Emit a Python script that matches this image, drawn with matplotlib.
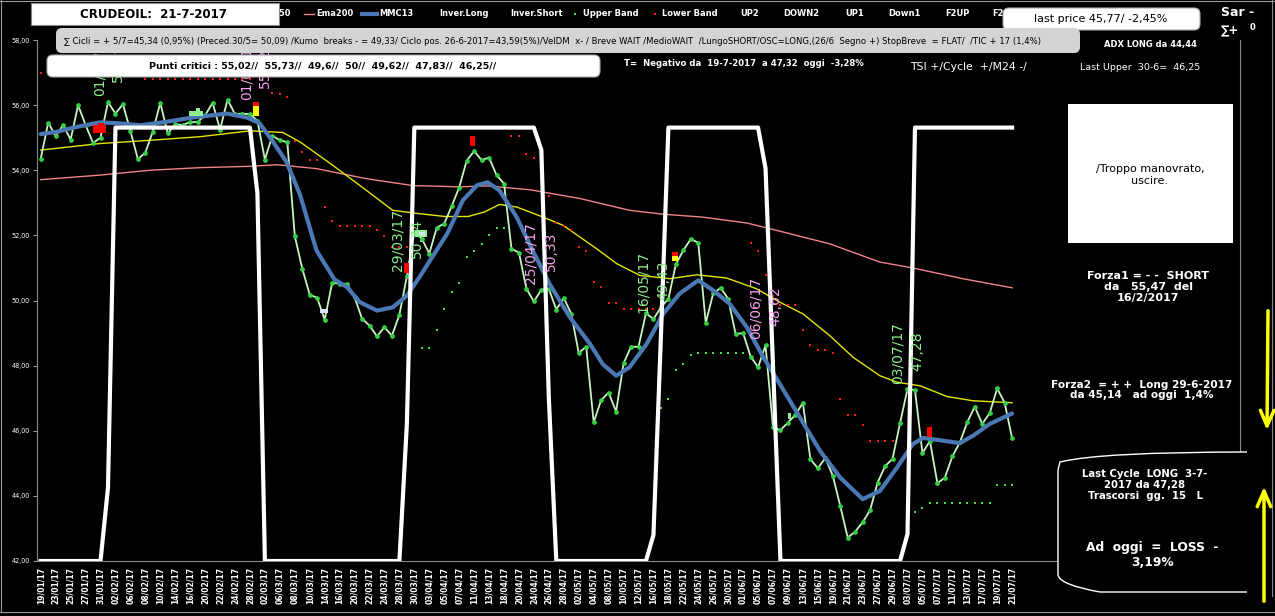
import numpy as np
import matplotlib
matplotlib.use('Agg')
import matplotlib.pyplot as plt
from matplotlib.patches import FancyBboxPatch, Rectangle, PathPatch
from matplotlib.path import Path

# ---- data ----
date_labels = ['19/01/17', '23/01/17', '25/01/17', '27/01/17', '31/01/17',
               '02/02/17', '06/02/17', '08/02/17', '10/02/17', '14/02/17', '16/02/17',
               '20/02/17', '22/02/17', '24/02/17', '28/02/17',
               '02/03/17', '06/03/17', '08/03/17', '10/03/17', '14/03/17', '16/03/17',
               '20/03/17', '22/03/17', '24/03/17', '28/03/17', '30/03/17',
               '03/04/17', '05/04/17', '07/04/17', '11/04/17', '13/04/17', '18/04/17',
               '20/04/17', '24/04/17', '26/04/17', '28/04/17',
               '02/05/17', '04/05/17', '08/05/17', '10/05/17', '12/05/17', '16/05/17',
               '18/05/17', '22/05/17', '24/05/17', '26/05/17', '30/05/17',
               '01/06/17', '05/06/17', '07/06/17', '09/06/17', '13/06/17', '15/06/17',
               '19/06/17', '21/06/17', '23/06/17', '27/06/17', '29/06/17',
               '03/07/17', '05/07/17', '07/07/17', '11/07/17', '13/07/17', '17/07/17',
               '19/07/17', '21/07/17']

price = [54.36, 55.46, 55.05, 55.39, 54.94, 56.00, 55.39, 54.84, 55.00, 56.09,
         55.74, 56.03, 55.21, 54.34, 54.54, 55.19, 56.07, 55.13, 55.41, 55.39,
         55.48, 55.48, 55.69, 56.07, 55.25, 56.17, 55.72, 55.74, 55.72, 55.52,
         54.33, 55.06, 54.92, 54.86, 51.98, 50.98, 50.18, 50.08, 49.41, 50.54,
         50.52, 50.51, 50.10, 49.44, 49.23, 48.90, 49.18, 48.92, 49.56, 50.74,
         52.10, 51.90, 51.44, 52.24, 52.36, 52.90, 53.47, 54.29, 54.59, 54.31,
         54.39, 53.85, 53.59, 51.59, 51.47, 50.36, 49.97, 50.33, 50.36, 49.72,
         50.08, 49.59, 48.39, 48.58, 46.26, 46.94, 47.17, 46.59, 48.07, 48.58,
         48.58, 49.61, 49.43, 49.79, 50.05, 51.11, 51.54, 51.89, 51.77, 49.31,
         50.22, 50.39, 50.05, 48.97, 49.00, 48.28, 47.95, 48.62, 46.10, 46.02,
         46.25, 46.49, 46.86, 45.13, 44.85, 45.16, 44.62, 43.69, 42.72, 42.90,
         43.19, 43.56, 44.41, 44.91, 45.14, 46.23, 47.28, 47.25, 45.31, 45.69,
         44.39, 44.56, 45.21, 45.64, 46.26, 46.74, 46.21, 46.54, 47.30, 46.86,
         45.77]

mmc_x = [0, 2.1, 4.8, 7.9, 10.6, 13.3, 16.9, 20.3, 23.0, 24.9, 27.6, 29.3, 31.1,
         32.9, 34.7, 36.9, 39.3, 41.0, 42.7, 45.0, 47.1, 49.0, 50.7, 52.1, 54.4,
         56.5, 58.4, 59.8, 61.4, 63.7, 65.9, 68.1, 70.8, 73.5, 75.2, 77.0, 78.8,
         81.1, 83.3, 85.5, 88.0, 90.0, 92.2, 94.5, 96.7, 98.9, 101.6, 104.3,
         107.0, 110.0, 112.3, 114.6, 116.7, 118.1, 120.3, 123.0, 124.8, 127.0, 130]
mmc13 = [55.11, 55.18, 55.33, 55.47, 55.44, 55.38, 55.49, 55.62, 55.69, 55.74,
         55.62, 55.44, 54.87, 54.25, 53.25, 51.54, 50.65, 50.41, 49.95, 49.69,
         49.79, 50.15, 50.72, 51.23, 52.05, 53.08, 53.54, 53.63, 53.38, 52.56,
         51.50, 50.51, 49.49, 48.67, 48.05, 47.69, 47.95, 48.67, 49.59, 50.21,
         50.62, 50.31, 49.90, 49.18, 48.26, 47.44, 46.41, 45.38, 44.56, 43.90,
         44.15, 44.87, 45.59, 45.78, 45.71, 45.62, 45.85, 46.21, 46.53]

ema200_x = [0, 7.9, 14.6, 21.3, 28.0, 31.6, 36.9, 43.6, 49.8, 56.1, 59.7, 65.5,
            72.2, 78.8, 83.3, 88.6, 94.5, 98.9, 105.6, 112.3, 116.7, 123.4, 130]
ema200 = [53.71, 53.85, 54.00, 54.08, 54.12, 54.17, 54.05, 53.74, 53.53, 53.49,
          53.52, 53.40, 53.13, 52.77, 52.65, 52.56, 52.38, 52.13, 51.74, 51.18,
          51.00, 50.67, 50.39]

ema50_x = [0, 7.9, 14.6, 21.3, 28.0, 32.4, 34.7, 39.1, 43.6, 47.1, 50.5, 54.1,
           57.2, 59.4, 61.4, 63.7, 66.8, 69.9, 74.4, 77.1, 80.2, 84.2, 87.8, 91.8,
           95.8, 98.9, 102.0, 105.6, 108.7, 112.3, 114.6, 117.7, 121.3, 124.8, 130]
ema50 = [54.62, 54.82, 54.92, 55.03, 55.21, 55.16, 54.87, 54.15, 53.38, 52.77,
         52.67, 52.58, 52.58, 52.72, 52.95, 52.87, 52.60, 52.31, 51.59, 51.13,
         50.77, 50.67, 50.79, 50.69, 50.36, 49.95, 49.59, 48.92, 48.26, 47.69,
         47.49, 47.38, 47.05, 46.92, 46.86]

inver_x = [0, 8, 9, 10, 28, 29, 30, 48, 49, 50, 66, 67, 68, 69, 81, 82, 83, 84,
           96, 97, 98, 99, 115, 116, 117, 130]
inver = [42, 42, 44.25, 55.31, 55.31, 53.29, 42, 42, 46.21, 55.31, 55.31, 54.62,
         47.0, 42, 42, 42.8, 48.9, 55.31, 55.31, 54.06, 48.0, 42, 42, 42.83,
         55.31, 55.31]

lower_x = [0, 14, 15, 16, 17, 18, 19, 20, 21, 22, 23, 24, 25, 26, 27, 28,
           31, 32, 33, 34, 35, 36, 37, 38, 39, 40, 41, 42, 43, 44, 45, 46, 47, 48, 49,
           63, 64, 65, 66, 68, 69, 70, 71, 72, 73, 74, 75, 76, 77, 78, 79, 80, 81, 82,
           95, 96, 97, 98, 99, 100, 101, 102, 103, 104, 105, 106, 107, 108, 109, 110,
           111, 112, 113, 114]
lower_band = [57.0, 56.8, 56.8, 56.8, 56.8, 56.8, 56.8, 56.8, 56.8, 56.8, 56.8,
              56.8, 56.8, 56.8, 56.8, 56.8,
              56.36, 56.34, 56.24, 54.89, 54.55, 54.31, 54.31, 52.87, 52.43, 52.28,
              52.28, 52.28, 52.28, 52.28, 52.15, 51.98, 51.65, 51.65, 51.64,
              55.05, 55.05, 54.49, 54.37, 53.2, 52.38, 52.28, 52.15, 51.64, 51.52,
              50.56, 50.41, 49.92, 49.92, 49.73, 49.73, 49.73, 49.73, 49.73,
              51.76, 51.51, 50.77, 50.15, 49.85, 49.85, 49.85, 49.08, 48.62, 48.49,
              48.49, 48.39, 46.97, 46.49, 46.49, 46.18, 45.67, 45.67, 45.67, 45.67]

upper_x = [51, 52, 53, 54, 55, 56, 57, 58, 59, 60, 61, 62,
           83, 84, 85, 86, 87, 88, 89, 90, 91, 92, 93, 94,
           117, 118, 119, 120, 121, 122, 123, 124, 125, 126, 127, 128, 129, 130]
upper_band = [48.53, 48.53, 49.08, 49.74, 50.26, 50.54, 51.35, 51.51, 51.72, 52.0,
              52.22, 52.22,
              46.70, 46.98, 47.88, 48.05, 48.34, 48.40, 48.40, 48.40, 48.40, 48.40,
              48.40, 48.40,
              43.51, 43.64, 43.78, 43.78, 43.78, 43.78, 43.78, 43.78, 43.78, 43.78,
              43.78, 44.34, 44.34, 44.34]

# signal markers: x, bottom, top
sig_red_x = [7.9, 8.1, 49.0, 57.8, 118.9, 28.8, 84.9]
sig_red_lo = [55.14, 55.30, 50.83, 54.73, 45.82, 55.97, 51.37]
sig_red_hi = [55.38, 55.45, 51.14, 55.04, 46.13, 56.10, 51.50]
sig_red_w = [1.8, 0.8, 0.7, 0.7, 0.7, 0.7, 0.7]
sig_yel_x = [28.8, 84.9]
sig_yel_lo = [55.66, 51.20]
sig_yel_hi = [55.97, 51.37]
sig_grn_x = [20.8, 21.0, 50.9, 100.2]
sig_grn_lo = [55.66, 55.80, 51.94, 46.37]
sig_grn_hi = [55.82, 55.90, 52.15, 46.55]
sig_grn_w = [1.9, 0.5, 1.6, 0.4]
sig_blu_x = [37.9, 51.0]
sig_blu_lo = [49.63, 51.98]
sig_blu_hi = [49.75, 52.10]
sig_blu_w = [1.1, 0.8]

ann_text = ['01/02/17', '56,09', '01/03/17', '55,52', '29/03/17', '50,74',
            '25/04/17', '50,33', '16/05/17', '49,43', '06/06/17', '48,62',
            '03/07/17', '47,28']
ann_x = [7.9, 10.3, 27.6, 30.0, 47.7, 50.3, 65.6, 68.3, 80.6, 83.3, 95.7, 98.3,
         114.7, 117.3]
ann_y = [56.28, 56.70, 56.15, 56.52, 50.92, 51.32, 50.52, 50.92, 49.63, 50.0,
         48.83, 49.23, 47.45, 47.85]
ann_col = ['g', 'g', 'p', 'p', 'g', 'g', 'p', 'p', 'g', 'g', 'p', 'p', 'g', 'g']

# ---- figure ----
W, H = 1275, 616
fig = plt.figure(figsize=(W / 100, H / 100), dpi=100, facecolor='black')
ax = fig.add_axes([37 / W, 1 - 561 / H, (1240 - 37) / W, (561 - 40) / H])
ax.set_facecolor('black')
xs = np.arange(len(price))

ax.plot(ema200_x, ema200, color='#f08585', lw=1.0, zorder=1)
ax.plot(ema50_x, ema50, color='#e6e600', lw=1.0, zorder=1)
ax.plot(xs, price, '-o', color='#c6f5bf', lw=1.3, ms=2.4,
        mfc='#35cf45', mec='#35cf45', zorder=2)
ax.plot(mmc_x, mmc13, color='#4a78b4', lw=3.0, zorder=3, solid_capstyle='round')
ax.plot(lower_x, lower_band, 's', color='#ff1a1a', ms=2.0, mew=0, zorder=3)
ax.plot(upper_x, upper_band, 's', color='#3ee03e', ms=2.0, mew=0, zorder=3)
ax.plot(inver_x, inver, color='white', lw=3.0, zorder=4)

for xv, lo, hi, w in zip(sig_red_x, sig_red_lo, sig_red_hi, sig_red_w):
    ax.bar(xv, hi - lo, bottom=lo, width=w, color='#ff0000', zorder=5)
for xv, lo, hi in zip(sig_yel_x, sig_yel_lo, sig_yel_hi):
    ax.bar(xv, hi - lo, bottom=lo, width=0.7, color='#ffff00', zorder=5)
for xv, lo, hi, w in zip(sig_grn_x, sig_grn_lo, sig_grn_hi, sig_grn_w):
    ax.bar(xv, hi - lo, bottom=lo, width=w, color='#90ee90', zorder=5)
for xv, lo, hi, w in zip(sig_blu_x, sig_blu_lo, sig_blu_hi, sig_blu_w):
    ax.bar(xv, hi - lo, bottom=lo, width=w, color='#d8e4f4', zorder=6)

for t, xv, yv, c in zip(ann_text, ann_x, ann_y, ann_col):
    ax.text(xv, yv, t, rotation=90, ha='center', va='bottom', fontsize=10,
            color='#90ee90' if c == 'g' else '#f5a3f0', zorder=7)

ax.set_xlim(-0.5, 160.5)
ax.set_ylim(42, 58)
ax.set_yticks(np.arange(42, 58.1, 2))
ax.set_yticklabels([f'{v:.2f}'.replace('.', ',') for v in np.arange(42, 58.1, 2)])
ax.set_xticks(np.arange(0, len(price), 2))
ax.set_xticklabels(date_labels, rotation=90, fontsize=5.5, fontweight='bold')
ax.tick_params(axis='y', colors='#9a9a9a', labelcolor='white', labelsize=4.7,
               length=3, width=0.8, pad=2)
ax.tick_params(axis='x', length=0, labelcolor='white', pad=4)
ax.spines['top'].set_visible(False)
for s in ['left', 'right', 'bottom']:
    ax.spines[s].set_color('#8a8a8a')
    ax.spines[s].set_linewidth(0.8)

# ---- overlay in pixel coordinates for boxes and texts ----
ov = fig.add_axes([0, 0, 1, 1], zorder=10)
ov.set_xlim(0, W)
ov.set_ylim(H, 0)
ov.axis('off')

# legend row
leg_names = ['Ema50', 'Ema200', 'MMC13', 'Inver.Long', 'Inver.Short', 'Upper Band',
             'Lower Band', 'UP2', 'DOWN2', 'UP1', 'Down1', 'F2UP', 'F2DOWN']
leg_x = [259, 316, 379, 439, 510, 583, 662, 740, 783, 845, 888, 945, 992]
for n, lx in zip(leg_names, leg_x):
    ov.text(lx, 14, n, color='white', fontsize=6, fontweight='bold', va='center',
            zorder=1)
ov.plot([240, 256], [14, 14], color='#e6e600', lw=1, zorder=1)
ov.plot([304, 314], [14, 14], color='#f08585', lw=1, zorder=1)
ov.plot([362, 377], [14, 14], color='#4a78b4', lw=3, zorder=1)
ov.plot([575], [14], 's', color='#3ee03e', ms=2, mew=0, zorder=1)
ov.plot([655], [14], 's', color='#ff1a1a', ms=2, mew=0, zorder=1)

ov.add_patch(Rectangle((31, 3), 248, 22, facecolor='white', edgecolor='#888888',
                       lw=0.8, zorder=5))
ov.text(153, 14.5, 'CRUDEOIL:  21-7-2017', ha='center', va='center', fontsize=8.5,
        fontweight='bold', color='black', zorder=6)


def rbox(x0, y0, x1, y1, fc, ec='none', r=6):
    ov.add_patch(FancyBboxPatch((x0, y0), x1 - x0, y1 - y0,
                                boxstyle=f'round,pad=0,rounding_size={r}',
                                facecolor=fc, edgecolor=ec, lw=0.8, zorder=5))


rbox(1003, 8, 1200, 30, 'white', '#aaaaaa')
ov.text(1101, 19.5, 'last price 45,77/ -2,45%', ha='center', va='center', fontsize=8,
        color='black', zorder=6)

ov.text(1221, 13, 'Sar -', color='white', fontsize=9, fontweight='bold', va='center')
ov.text(1221, 31, '∑+', color='white', fontsize=8.5, fontweight='bold', va='center')
ov.text(1250, 27, '0', color='white', fontsize=6, fontweight='bold', va='center')

rbox(56, 28, 1080, 53, '#d4d4d4')
ov.text(553, 41, '∑ Cicli = + 5/7=45,34 (0,95%) (Preced.30/5= 50,09) /Kumo  breaks - = 49,33/ '
        'Ciclo pos. 26-6-2017=43,59(5%)/VelDM  x- / Breve WAIT /MedioWAIT  /LungoSHORT/'
        'OSC=LONG,(26/6  Segno +) StopBreve  = FLAT/  /TIC + 17 (1,4%)',
        ha='center', va='center', fontsize=6.1, color='black', zorder=6)
ov.text(1104, 45, 'ADX LONG da 44,44', color='white', fontsize=6, fontweight='bold',
        va='center')

rbox(47, 55, 600, 77, 'white', '#aaaaaa')
ov.text(323, 66, 'Punti critici : 55,02//  55,73//  49,6//  50//  49,62//  47,83//  46,25//',
        ha='center', va='center', fontsize=6.8, fontweight='bold', color='black', zorder=6)
ov.text(624, 63, 'T=  Negativo da  19-7-2017  a 47,32  oggi  -3,28%', color='white',
        fontsize=6.1, fontweight='bold', va='center')
ov.text(910, 67, 'TSI +/Cycle  +/M24 -/', color='white', fontsize=7.8, va='center')
ov.text(1080, 67, 'Last Upper  30-6=  46,25', color='white', fontsize=6.8, va='center')

# right panel
ov.add_patch(Rectangle((1068, 104), 165, 139, facecolor='white', edgecolor='none',
                       zorder=5))
ov.text(1150, 175, '/Troppo manovrato,\nuscire.', ha='center', va='center', fontsize=8,
        color='black', linespacing=1.3, zorder=6)
ov.text(1148, 287, 'Forza1 = - -  SHORT\nda   55,47  del\n16/2/2017', ha='center',
        va='center', fontsize=8, fontweight='bold', color='white', linespacing=1.15)
ov.text(1142, 390, 'Forza2  = + +  Long 29-6-2017\nda 45,14   ad oggi  1,4%', ha='center',
        va='center', fontsize=7.6, fontweight='bold', color='white', linespacing=1.1,
        bbox=dict(facecolor='black', edgecolor='none', pad=1))

verts = [(1247, 452), (1100, 452), (1060, 462), (1058, 470), (1058, 575),
         (1060, 585), (1100, 592), (1247, 592)]
codes = [Path.MOVETO, Path.CURVE3, Path.CURVE3, Path.LINETO, Path.LINETO,
         Path.CURVE3, Path.CURVE3, Path.LINETO]
ov.add_patch(PathPatch(Path(verts, codes), facecolor='black', edgecolor='white', lw=1))
ov.text(1145, 485, 'Last Cycle  LONG  3-7-\n2017 da 47,28\nTrascorsi  gg.  15   L',
        ha='center', va='center', fontsize=7.3, fontweight='bold', color='white',
        linespacing=1.1)
ov.text(1152, 555, 'Ad  oggi  =  LOSS  -\n3,19%', ha='center', va='center', fontsize=8.8,
        fontweight='bold', color='white', linespacing=1.15)

ov.annotate('', xy=(1267, 433), xytext=(1268, 308),
            arrowprops=dict(arrowstyle='->,head_width=0.35,head_length=0.8',
                            color='#ffff00', lw=2.5, mutation_scale=14))
ov.annotate('', xy=(1264, 484), xytext=(1264, 604),
            arrowprops=dict(arrowstyle='->,head_width=0.35,head_length=0.8',
                            color='#ffff00', lw=2.5, mutation_scale=14))

ov.plot([1272, 1272], [0, 596], color='#8a8a8a', lw=0.8)
ov.plot([0, W], [612, 612], color='#9a9a9a', lw=0.8)
ov.plot([1, 1], [0, 612], color='#9a9a9a', lw=0.8)
ov.plot([0, W], [0.5, 0.5], color='#9a9a9a', lw=0.8)

fig.savefig('out.png', dpi=100, facecolor='black')
